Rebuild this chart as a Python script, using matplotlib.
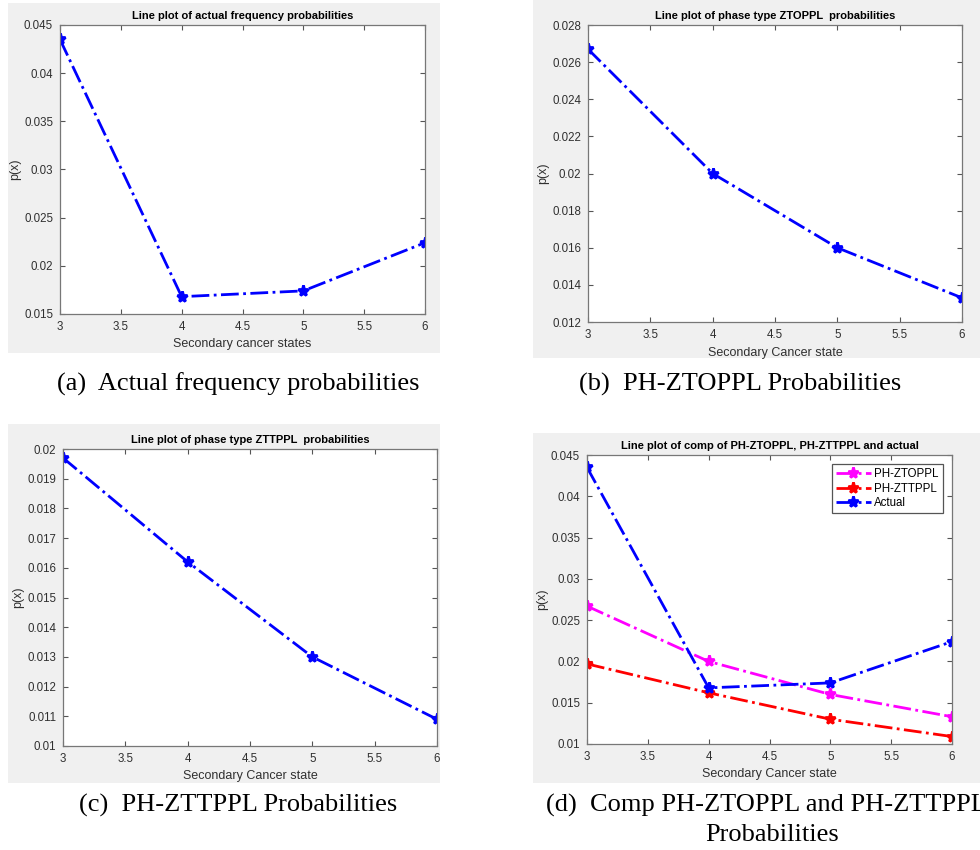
import matplotlib
matplotlib.use("Agg")
import matplotlib.pyplot as plt
from matplotlib.patches import Rectangle

# secondary cancer states and probabilities
states = [3, 4, 5, 6]
actual = [0.0435, 0.0168, 0.0174, 0.0224]
ph_ztoppl = [0.0267, 0.0200, 0.0160, 0.0133]
ph_zttppl = [0.0197, 0.0162, 0.0130, 0.0109]

x_ticks = [3, 3.5, 4, 4.5, 5, 5.5, 6]
x_tick_labels = ["3", "3.5", "4", "4.5", "5", "5.5", "6"]

W, H = 980, 850
plt.rcParams['font.family'] = ['Liberation Sans', 'DejaVu Sans']

fig = plt.figure(figsize=(9.8, 8.5), dpi=100)
fig.patch.set_facecolor('white')


def px_rect(x0, y0, x1, y1):
    # pixel box (top-left origin) -> figure fraction rect
    return [x0 / W, 1 - y1 / H, (x1 - x0) / W, (y1 - y0) / H]


def grey_panel(x0, y0, x1, y1):
    r = px_rect(x0, y0, x1, y1)
    fig.patches.append(Rectangle((r[0], r[1]), r[2], r[3], transform=fig.transFigure,
                                 facecolor='#f0f0f0', edgecolor='none', zorder=-10))


def style_axes(ax, title, xlabel, ylim, yticks):
    ax.set_xlim(3, 6)
    ax.set_ylim(*ylim)
    ax.set_xticks(x_ticks)
    ax.set_xticklabels(x_tick_labels)
    ax.set_yticks(yticks)
    ax.set_yticklabels([f"{t:g}" for t in yticks])
    ax.tick_params(direction='in', top=True, right=True, length=3.5, width=0.8,
                   labelsize=8.3, colors='#555555', labelcolor='#303030', pad=5)
    for s in ax.spines.values():
        s.set_color('#777777')
        s.set_linewidth(0.9)
    ax.set_title(title, fontsize=8, fontweight='bold', pad=4)
    ax.set_xlabel(xlabel, fontsize=9, color='#303030', labelpad=4)
    ax.set_ylabel("p(x)", fontsize=9, color='#303030', labelpad=2)


line_kw = dict(linestyle='-.', linewidth=2, marker='*', markersize=8, markeredgewidth=2)

grey_panel(8, 3, 440, 353)
grey_panel(533, 0, 980, 358)
grey_panel(8, 424, 440, 783)
grey_panel(533, 433, 980, 783)

# (a)
ax = fig.add_axes(px_rect(60, 25, 425, 314))
ax.plot(states, actual, color='blue', **line_kw)
style_axes(ax, "Line plot of actual frequency probabilities", "Secondary cancer states",
           (0.015, 0.045), [0.015, 0.02, 0.025, 0.03, 0.035, 0.04, 0.045])

# (b)
ax = fig.add_axes(px_rect(588, 25, 962, 322))
ax.plot(states, ph_ztoppl, color='blue', **line_kw)
style_axes(ax, "Line plot of phase type ZTOPPL  probabilities", "Secondary Cancer state",
           (0.012, 0.028), [0.012, 0.014, 0.016, 0.018, 0.02, 0.022, 0.024, 0.026, 0.028])

# (c)
ax = fig.add_axes(px_rect(63, 449, 437, 746))
ax.plot(states, ph_zttppl, color='blue', **line_kw)
style_axes(ax, "Line plot of phase type ZTTPPL  probabilities", "Secondary Cancer state",
           (0.01, 0.02), [0.01, 0.011, 0.012, 0.013, 0.014, 0.015, 0.016, 0.017, 0.018, 0.019, 0.02])

# (d)
ax = fig.add_axes(px_rect(587, 455, 952, 744))
ax.plot(states, ph_ztoppl, color='magenta', label='PH-ZTOPPL', **line_kw)
ax.plot(states, ph_zttppl, color='red', label='PH-ZTTPPL', **line_kw)
ax.plot(states, actual, color='blue', label='Actual', **line_kw)
style_axes(ax, "Line plot of comp of PH-ZTOPPL, PH-ZTTPPL and actual", "Secondary Cancer state",
           (0.01, 0.045), [0.01, 0.015, 0.02, 0.025, 0.03, 0.035, 0.04, 0.045])
leg = ax.legend(loc='upper right', fontsize=8.3, handlelength=3.0, handletextpad=0.3,
                borderpad=0.35, labelspacing=0.2, fancybox=False, framealpha=1,
                borderaxespad=0.8, numpoints=1)
leg.get_frame().set_edgecolor('#555555')
leg.get_frame().set_linewidth(0.9)

# captions
cap_kw = dict(fontsize=19, family=['Liberation Serif', 'DejaVu Serif'], ha='center', va='center')
fig.text(238 / W, 1 - 384 / H, "(a)  Actual frequency probabilities", **cap_kw)
fig.text(740 / W, 1 - 384 / H, "(b)  PH-ZTOPPL Probabilities", **cap_kw)
fig.text(238 / W, 1 - 805 / H, "(c)  PH-ZTTPPL Probabilities", **cap_kw)
fig.text(766 / W, 1 - 805 / H, "(d)  Comp PH-ZTOPPL and PH-ZTTPPL", **cap_kw)
fig.text(772 / W, 1 - 835 / H, "Probabilities", **cap_kw)

fig.savefig("out.png", dpi=100)
